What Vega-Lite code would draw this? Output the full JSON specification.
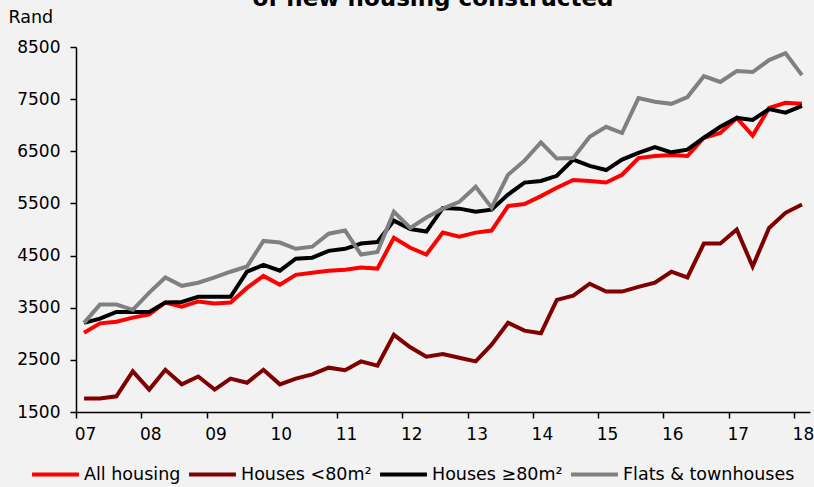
{
  "$schema": "https://vega.github.io/schema/vega-lite/v6.json",
  "width": 734,
  "height": 365,
  "autosize": {"type": "none"},
  "padding": {"left": 76, "top": 47, "right": 4, "bottom": 75},
  "background": "#F2F2F2",
  "title": {
    "text": "of new housing constructed",
    "font": "DejaVu Sans",
    "fontSize": 23,
    "fontWeight": "bold",
    "color": "#000000",
    "anchor": "middle",
    "frame": "group",
    "baseline": "alphabetic",
    "offset": -21,
    "dx": -10
  },
  "data": {
    "values": [
      {"date": "2007-02-15", "All housing": 3020, "Houses <80m²": 1760, "Houses ≥80m²": 3210, "Flats & townhouses": 3210},
      {"date": "2007-05-15", "All housing": 3200, "Houses <80m²": 1760, "Houses ≥80m²": 3290, "Flats & townhouses": 3560},
      {"date": "2007-08-15", "All housing": 3230, "Houses <80m²": 1800, "Houses ≥80m²": 3420, "Flats & townhouses": 3560},
      {"date": "2007-11-15", "All housing": 3310, "Houses <80m²": 2280, "Houses ≥80m²": 3420, "Flats & townhouses": 3460},
      {"date": "2008-02-15", "All housing": 3370, "Houses <80m²": 1930, "Houses ≥80m²": 3420, "Flats & townhouses": 3790},
      {"date": "2008-05-15", "All housing": 3600, "Houses <80m²": 2310, "Houses ≥80m²": 3600, "Flats & townhouses": 4080},
      {"date": "2008-08-15", "All housing": 3520, "Houses <80m²": 2030, "Houses ≥80m²": 3610, "Flats & townhouses": 3920},
      {"date": "2008-11-15", "All housing": 3620, "Houses <80m²": 2180, "Houses ≥80m²": 3710, "Flats & townhouses": 3980},
      {"date": "2009-02-15", "All housing": 3580, "Houses <80m²": 1930, "Houses ≥80m²": 3710, "Flats & townhouses": 4080},
      {"date": "2009-05-15", "All housing": 3600, "Houses <80m²": 2140, "Houses ≥80m²": 3710, "Flats & townhouses": 4190},
      {"date": "2009-08-15", "All housing": 3880, "Houses <80m²": 2060, "Houses ≥80m²": 4190, "Flats & townhouses": 4290},
      {"date": "2009-11-15", "All housing": 4110, "Houses <80m²": 2310, "Houses ≥80m²": 4320, "Flats & townhouses": 4780},
      {"date": "2010-02-15", "All housing": 3940, "Houses <80m²": 2030, "Houses ≥80m²": 4210, "Flats & townhouses": 4750},
      {"date": "2010-05-15", "All housing": 4130, "Houses <80m²": 2140, "Houses ≥80m²": 4440, "Flats & townhouses": 4630},
      {"date": "2010-08-15", "All housing": 4170, "Houses <80m²": 2220, "Houses ≥80m²": 4460, "Flats & townhouses": 4670},
      {"date": "2010-11-15", "All housing": 4210, "Houses <80m²": 2350, "Houses ≥80m²": 4590, "Flats & townhouses": 4920},
      {"date": "2011-02-15", "All housing": 4230, "Houses <80m²": 2300, "Houses ≥80m²": 4630, "Flats & townhouses": 4980},
      {"date": "2011-05-15", "All housing": 4270, "Houses <80m²": 2470, "Houses ≥80m²": 4730, "Flats & townhouses": 4520},
      {"date": "2011-08-15", "All housing": 4250, "Houses <80m²": 2390, "Houses ≥80m²": 4760, "Flats & townhouses": 4570},
      {"date": "2011-11-15", "All housing": 4840, "Houses <80m²": 2980, "Houses ≥80m²": 5170, "Flats & townhouses": 5340},
      {"date": "2012-02-15", "All housing": 4650, "Houses <80m²": 2740, "Houses ≥80m²": 5010, "Flats & townhouses": 5030},
      {"date": "2012-05-15", "All housing": 4520, "Houses <80m²": 2560, "Houses ≥80m²": 4960, "Flats & townhouses": 5230},
      {"date": "2012-08-15", "All housing": 4940, "Houses <80m²": 2610, "Houses ≥80m²": 5410, "Flats & townhouses": 5400},
      {"date": "2012-11-15", "All housing": 4860, "Houses <80m²": 2540, "Houses ≥80m²": 5400, "Flats & townhouses": 5530},
      {"date": "2013-02-15", "All housing": 4940, "Houses <80m²": 2470, "Houses ≥80m²": 5340, "Flats & townhouses": 5820},
      {"date": "2013-05-15", "All housing": 4980, "Houses <80m²": 2790, "Houses ≥80m²": 5380, "Flats & townhouses": 5420},
      {"date": "2013-08-15", "All housing": 5450, "Houses <80m²": 3210, "Houses ≥80m²": 5670, "Flats & townhouses": 6050},
      {"date": "2013-11-15", "All housing": 5490, "Houses <80m²": 3060, "Houses ≥80m²": 5900, "Flats & townhouses": 6320},
      {"date": "2014-02-15", "All housing": 5640, "Houses <80m²": 3010, "Houses ≥80m²": 5930, "Flats & townhouses": 6670},
      {"date": "2014-05-15", "All housing": 5800, "Houses <80m²": 3650, "Houses ≥80m²": 6030, "Flats & townhouses": 6360},
      {"date": "2014-08-15", "All housing": 5950, "Houses <80m²": 3730, "Houses ≥80m²": 6340, "Flats & townhouses": 6370},
      {"date": "2014-11-15", "All housing": 5930, "Houses <80m²": 3960, "Houses ≥80m²": 6220, "Flats & townhouses": 6780},
      {"date": "2015-02-15", "All housing": 5900, "Houses <80m²": 3810, "Houses ≥80m²": 6140, "Flats & townhouses": 6970},
      {"date": "2015-05-15", "All housing": 6050, "Houses <80m²": 3810, "Houses ≥80m²": 6340, "Flats & townhouses": 6850},
      {"date": "2015-08-15", "All housing": 6370, "Houses <80m²": 3900, "Houses ≥80m²": 6470, "Flats & townhouses": 7520},
      {"date": "2015-11-15", "All housing": 6410, "Houses <80m²": 3980, "Houses ≥80m²": 6580, "Flats & townhouses": 7450},
      {"date": "2016-02-15", "All housing": 6430, "Houses <80m²": 4190, "Houses ≥80m²": 6480, "Flats & townhouses": 7410},
      {"date": "2016-05-15", "All housing": 6410, "Houses <80m²": 4080, "Houses ≥80m²": 6530, "Flats & townhouses": 7540},
      {"date": "2016-08-15", "All housing": 6760, "Houses <80m²": 4730, "Houses ≥80m²": 6760, "Flats & townhouses": 7940},
      {"date": "2016-11-15", "All housing": 6850, "Houses <80m²": 4730, "Houses ≥80m²": 6970, "Flats & townhouses": 7830},
      {"date": "2017-02-15", "All housing": 7140, "Houses <80m²": 5000, "Houses ≥80m²": 7140, "Flats & townhouses": 8040},
      {"date": "2017-05-15", "All housing": 6800, "Houses <80m²": 4290, "Houses ≥80m²": 7100, "Flats & townhouses": 8020},
      {"date": "2017-08-15", "All housing": 7330, "Houses <80m²": 5030, "Houses ≥80m²": 7310, "Flats & townhouses": 8250},
      {"date": "2017-11-15", "All housing": 7430, "Houses <80m²": 5320, "Houses ≥80m²": 7240, "Flats & townhouses": 8380},
      {"date": "2018-02-15", "All housing": 7410, "Houses <80m²": 5480, "Houses ≥80m²": 7370, "Flats & townhouses": 7960}
    ]
  },
  "transform": [
    {"fold": ["All housing", "Houses <80m²", "Houses ≥80m²", "Flats & townhouses"], "as": ["series", "value"]}
  ],
  "mark": {"type": "line", "strokeWidth": 4, "strokeJoin": "miter"},
  "encoding": {
    "x": {
      "field": "date",
      "type": "temporal",
      "scale": {"domain": [{"year": 2007, "month": 1, "date": 1}, {"year": 2018, "month": 4, "date": 1}]},
      "axis": {
        "values": [{"year": 2007}, {"year": 2008}, {"year": 2009}, {"year": 2010}, {"year": 2011}, {"year": 2012}, {"year": 2013}, {"year": 2014}, {"year": 2015}, {"year": 2016}, {"year": 2017}, {"year": 2018}],
        "format": "%y",
        "title": null,
        "grid": false,
        "labelOffset": 9,
        "labelPadding": 8,
        "labelFlush": false,
        "labelOverlap": false,
        "labelFont": "DejaVu Sans",
        "labelFontSize": 17,
        "labelColor": "#000000",
        "tickSize": 6,
        "tickColor": "#000000",
        "tickWidth": 1.5,
        "domainColor": "#000000",
        "domainWidth": 1.5
      }
    },
    "y": {
      "field": "value",
      "type": "quantitative",
      "scale": {"domain": [1500, 8500], "nice": false, "zero": false},
      "axis": {
        "values": [1500, 2500, 3500, 4500, 5500, 6500, 7500, 8500],
        "format": "d",
        "grid": false,
        "title": "Rand",
        "titleAngle": 0,
        "titleAlign": "left",
        "titleBaseline": "middle",
        "titleX": -68,
        "titleY": -30,
        "titleFont": "DejaVu Sans",
        "titleFontSize": 17.5,
        "titleFontWeight": "normal",
        "titleColor": "#000000",
        "labelFont": "DejaVu Sans",
        "labelFontSize": 17,
        "labelColor": "#000000",
        "labelPadding": 10,
        "tickSize": 6,
        "tickColor": "#000000",
        "tickWidth": 1.5,
        "domainColor": "#000000",
        "domainWidth": 1.5
      }
    },
    "color": {
      "field": "series",
      "type": "nominal",
      "scale": {
        "domain": ["All housing", "Houses <80m²", "Houses ≥80m²", "Flats & townhouses"],
        "range": ["#FF0000", "#7F0000", "#000000", "#808080"]
      },
      "legend": {
        "title": null,
        "orient": "none",
        "legendX": -46,
        "legendY": 402,
        "direction": "horizontal",
        "symbolType": "stroke",
        "symbolStrokeWidth": 4,
        "symbolSize": 2200,
        "labelFont": "DejaVu Sans",
        "labelFontSize": 17.5,
        "labelColor": "#000000",
        "labelOffset": 3,
        "labelLimit": 0,
        "columnPadding": 0
      }
    }
  },
  "config": {"view": {"stroke": null}}
}
